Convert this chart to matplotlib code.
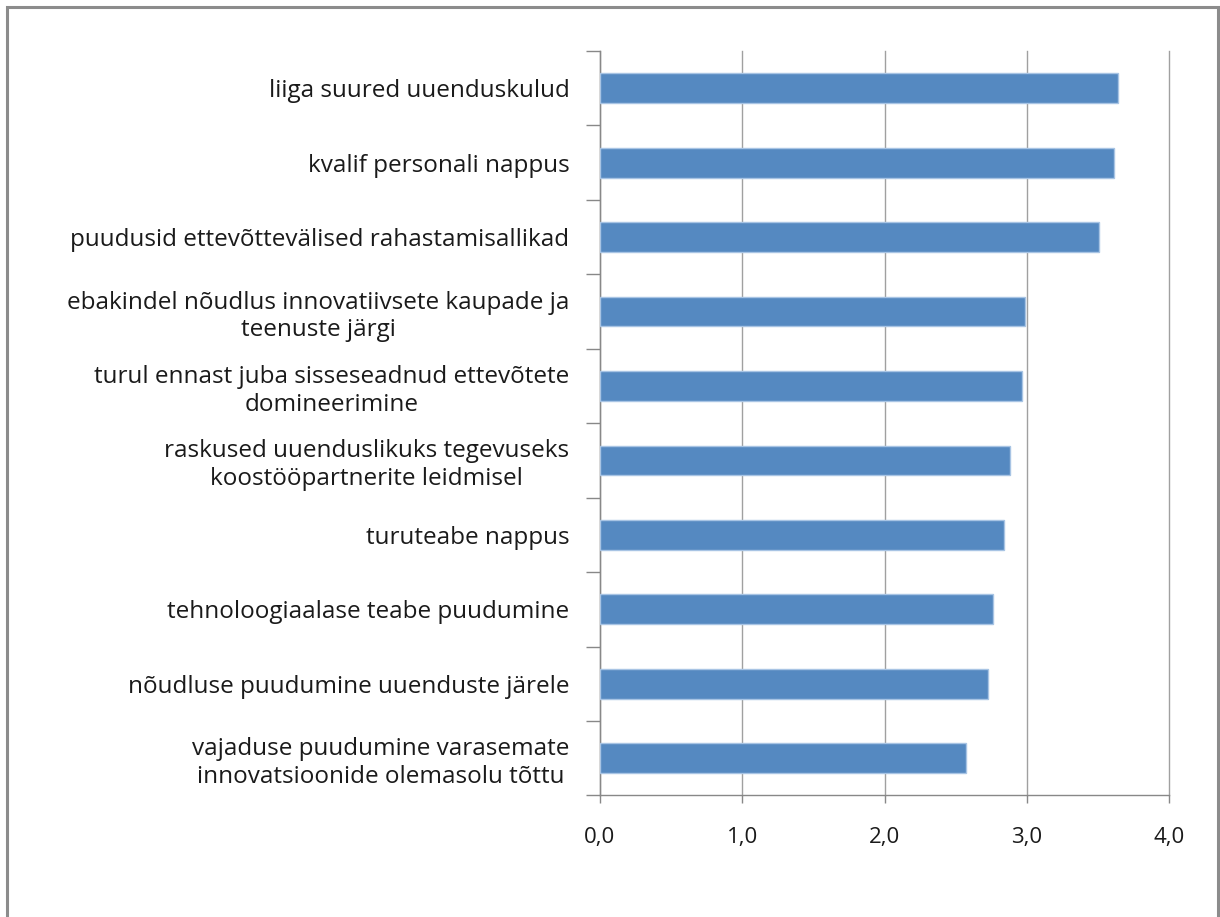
import numpy as np
import matplotlib
matplotlib.use("Agg")
import matplotlib.pyplot as plt
from matplotlib.patches import Rectangle

# categories, top to bottom as in the chart
labels = [
    "liiga suured uuenduskulud",
    "kvalif personali nappus",
    "puudusid ettevõttevälised rahastamisallikad",
    "ebakindel nõudlus innovatiivsete kaupade ja\nteenuste järgi",
    "turul ennast juba sisseseadnud ettevõtete\ndomineerimine",
    "raskused uuenduslikuks tegevuseks\nkoostööpartnerite leidmisel",
    "turuteabe nappus",
    "tehnoloogiaalase teabe puudumine",
    "nõudluse puudumine uuenduste järele",
    "vajaduse puudumine varasemate\ninnovatsioonide olemasolu tõttu",
]
values = [3.64, 3.61, 3.51, 2.99, 2.97, 2.88, 2.84, 2.76, 2.73, 2.57]
xticks = [0, 1, 2, 3, 4]
xticklabels = ["0,0", "1,0", "2,0", "3,0", "4,0"]

plt.rcParams['font.family'] = ['Open Sans', 'DejaVu Sans']

fig = plt.figure(figsize=(12.2, 9.17), dpi=100)
ax = fig.add_axes([0.4918, 0.1325, 0.4664, 0.8119])

y = np.arange(len(labels))
ax.barh(y, values, height=0.4, color='#5589c1', edgecolor='#a8c4e4', linewidth=1, zorder=3)

ax.set_xlim(0, 4)
ax.set_ylim(len(labels) - 0.5, -0.5)

ax.set_xticks(xticks)
ax.set_xticklabels(xticklabels, fontsize=16, color='#1a1a1a')
ax.set_yticks(y)
ax.set_yticklabels(labels, fontsize=17.5, color='#1a1a1a', multialignment='center',
                   linespacing=1.2)
ax.set_yticks(np.arange(len(labels) + 1) - 0.5, minor=True)

ax.tick_params(axis='y', which='major', length=0, pad=22)
ax.tick_params(axis='y', which='minor', length=10, color='#888888', width=1)
ax.tick_params(axis='x', which='major', length=6, color='#888888', width=1, pad=17)

ax.grid(axis='x', color='#a0a0a0', linewidth=1, zorder=0)
for line in ax.get_xgridlines():
    line.set_clip_on(False)
for s in ['top', 'right']:
    ax.spines[s].set_visible(False)
for s in ['left', 'bottom']:
    ax.spines[s].set_color('#888888')
    ax.spines[s].set_linewidth(1)

# outer chart border
fig.patches.append(Rectangle((7 / 1220, -0.01), 1211 / 1220, 1 - 7 / 917 + 0.01,
                             transform=fig.transFigure, fill=False,
                             edgecolor='#8c8c8c', linewidth=2.2))

fig.savefig("out.png", dpi=100, facecolor='white')
